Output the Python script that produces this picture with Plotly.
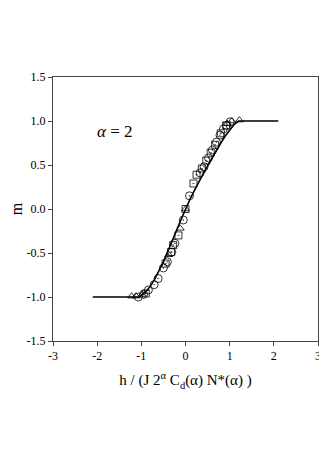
import plotly.graph_objects as go

# theory curve
line_x = [-2.1, -1.05, -1.0, -0.9, -0.8, -0.7, -0.6, -0.5, -0.4, -0.3, -0.2, -0.1, 0.0,
          0.1, 0.2, 0.3, 0.4, 0.5, 0.6, 0.7, 0.8, 0.9, 1.0, 1.1, 1.2, 2.1]
line_m = [-1.0, -1.0, -0.98, -0.94, -0.88, -0.80, -0.70, -0.60, -0.48, -0.37, -0.24, -0.12, 0.0,
          0.11, 0.21, 0.31, 0.40, 0.49, 0.58, 0.66, 0.75, 0.83, 0.90, 0.96, 1.0, 1.0]

# simulation data
circ_x = [-1.07, -0.95, -0.84, -0.71, -0.62, -0.50, -0.41, -0.31, -0.24, -0.05, 0.09,
          0.33, 0.42, 0.52, 0.61, 0.70, 0.78, 0.86, 0.93, 1.01]
circ_m = [-1.0, -0.97, -0.92, -0.86, -0.79, -0.67, -0.60, -0.49, -0.39, -0.125, 0.15,
          0.41, 0.48, 0.58, 0.67, 0.76, 0.84, 0.91, 0.95, 0.99]

sq_x = [-0.9, -0.45, -0.33, -0.28, -0.16, 0.0, 0.18, 0.25, 0.37, 0.47, 0.57, 0.67, 0.80, 0.92]
sq_m = [-0.96, -0.62, -0.49, -0.41, -0.30, 0.0, 0.29, 0.39, 0.46, 0.55, 0.64, 0.73, 0.86, 0.95]

tri_x = [-1.22, -1.12, -0.98, -0.38, -0.12, 0.0, 0.95, 1.05, 1.22]
tri_m = [-0.99, -0.99, -0.97, -0.52, -0.22, 0.0, 0.97, 1.0, 1.01]

# tick labels (plain hyphen minus like the original)
x_ticks = [-3, -2, -1, 0, 1, 2, 3]
x_labels = ['-3', '-2', '-1', '0', '1', '2', '3']
y_ticks = [-1.5, -1.0, -0.5, 0.0, 0.5, 1.0, 1.5]
y_labels = ['-1.5', '-1.0', '-0.5', '0.0', '0.5', '1.0', '1.5']

fig = go.Figure()
fig.add_trace(go.Scatter(x=line_x, y=line_m, mode='lines',
                         line=dict(color='black', width=1.6), showlegend=False))
fig.add_trace(go.Scatter(x=circ_x, y=circ_m, mode='markers', showlegend=False,
                         marker=dict(symbol='circle-dot', size=8, color='rgba(0,0,0,0)',
                                     line=dict(color='black', width=0.8))))
fig.add_trace(go.Scatter(x=sq_x, y=sq_m, mode='markers', showlegend=False,
                         marker=dict(symbol='square-dot', size=7, color='rgba(0,0,0,0)',
                                     line=dict(color='black', width=0.8))))
fig.add_trace(go.Scatter(x=tri_x, y=tri_m, mode='markers', showlegend=False,
                         marker=dict(symbol='triangle-up-open', size=7, color='black',
                                     line=dict(width=0.8))))

fig.add_annotation(x=-2.05, y=0.88, xanchor='left', yanchor='middle', showarrow=False,
                   text='<i>α</i> = 2', font=dict(family='Liberation Serif', size=17, color='black'))

axis_common = dict(showline=True, linecolor='#444', linewidth=1, mirror=True, ticks='outside',
                   ticklen=4, tickcolor='#444', showgrid=False, zeroline=False, automargin=False,
                   tickfont=dict(family='Liberation Serif', size=12, color='black'))

# page body has an 8px margin, so the figure is a bit smaller than the window
fig.update_layout(
    width=319, height=462,
    margin=dict(l=45, r=9, t=69, b=129),
    plot_bgcolor='white', paper_bgcolor='white',
    xaxis=dict(range=[-3, 3], tickvals=x_ticks, ticktext=x_labels, **axis_common,
               title=dict(text='h / (J 2<sup>α</sup> C<sub>d</sub>(α) N*(α) )', standoff=12,
                          font=dict(family='Liberation Serif', size=15, color='black'))),
    yaxis=dict(range=[-1.5, 1.5], tickvals=y_ticks, ticktext=y_labels, **axis_common,
               title=dict(text='m', standoff=15,
                          font=dict(family='Liberation Serif', size=16, color='black'))),
)

fig.write_html("out.html")
